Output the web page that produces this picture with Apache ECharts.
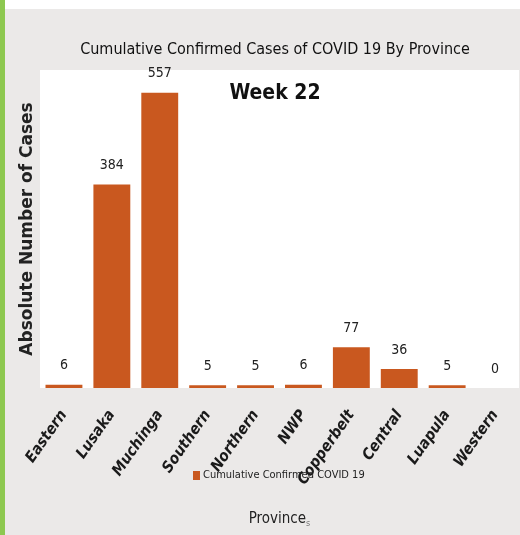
<!DOCTYPE html>
<html>
<head>
<meta charset="utf-8">
<script src="https://cdn.jsdelivr.net/npm/echarts@6/dist/echarts.min.js"></script>
<style>
html,body{margin:0;padding:0;background:#ebe9e8;}
#c{width:520px;height:535px;}
</style>
</head>
<body>
<div id="c"></div>
<script>
var categories = ['Eastern','Lusaka','Muchinga','Southern','Northern','NWP','Copperbelt','Central','Luapula','Western'];
var cases = [6, 384, 557, 5, 5, 6, 77, 36, 5, 0];
var seriesName = 'Cumulative Confirmed COVID 19';
var yMax = 600;

var FONT = '"DejaVu Sans Condensed",sans-serif';
var chart = echarts.init(document.getElementById('c'), null, {renderer:'canvas'});
chart.setOption({
  backgroundColor: '#ebe9e8',
  animation: false,
  graphic: [
    {type:'rect', left:0, top:0, shape:{width:520, height:9}, style:{fill:'#ffffff'}, z:-1},
    {type:'rect', left:0, top:0, shape:{width:5, height:535}, style:{fill:'#8dc850'}, z:10}
  ],
  title: [
    {text:'Cumulative Confirmed Cases of COVID 19 By Province', left:270, textAlign:'center', top:37,
     textStyle:{fontFamily:FONT, fontSize:16, fontWeight:'normal', color:'#111'}},
    {text:'Week 22', left:270, textAlign:'center', top:78,
     textStyle:{fontFamily:FONT, fontSize:21, fontWeight:'bold', color:'#111'}}
  ],
  legend: {
    data:[seriesName], left:188, top:465, itemWidth:7, itemHeight:9, itemGap:4,
    icon:'rect',
    textStyle:{fontFamily:FONT, fontSize:11, color:'#222', padding:[0,0,0,-2]}
  },
  grid: {left:40, right:1, top:70, height:318, show:true, backgroundColor:'#ffffff', borderWidth:0},
  xAxis: {
    type:'category', data:categories,
    name:'Province{s|s}', nameLocation:'middle', nameGap:123,
    nameTextStyle:{fontFamily:FONT, fontSize:15, color:'#222', rich:{s:{fontSize:9, color:'#777', padding:[8,0,0,0]}}},
    axisLine:{show:false}, axisTick:{show:false},
    axisLabel:{rotate:55, fontFamily:FONT, fontSize:15.5, fontStyle:'italic', fontWeight:'bold', color:'#1a1a1a', margin:24, interval:0}
  },
  yAxis: {
    type:'value', min:0, max:yMax,
    name:'Absolute Number of Cases', nameLocation:'middle', nameGap:4, nameRotate:90,
    nameTextStyle:{fontFamily:'"DejaVu Sans",sans-serif', fontWeight:'bold', fontSize:17, color:'#222'},
    axisLabel:{show:false}, axisLine:{show:false}, axisTick:{show:false}, splitLine:{show:false}
  },
  series: [{
    name: seriesName, type:'bar', data:cases, barCategoryGap:'23%',
    itemStyle:{color:'#c9581f'},
    label:{show:true, position:'top', distance:12, fontFamily:FONT, fontSize:14, color:'#222'}
  }]
});
</script>
</body>
</html>
